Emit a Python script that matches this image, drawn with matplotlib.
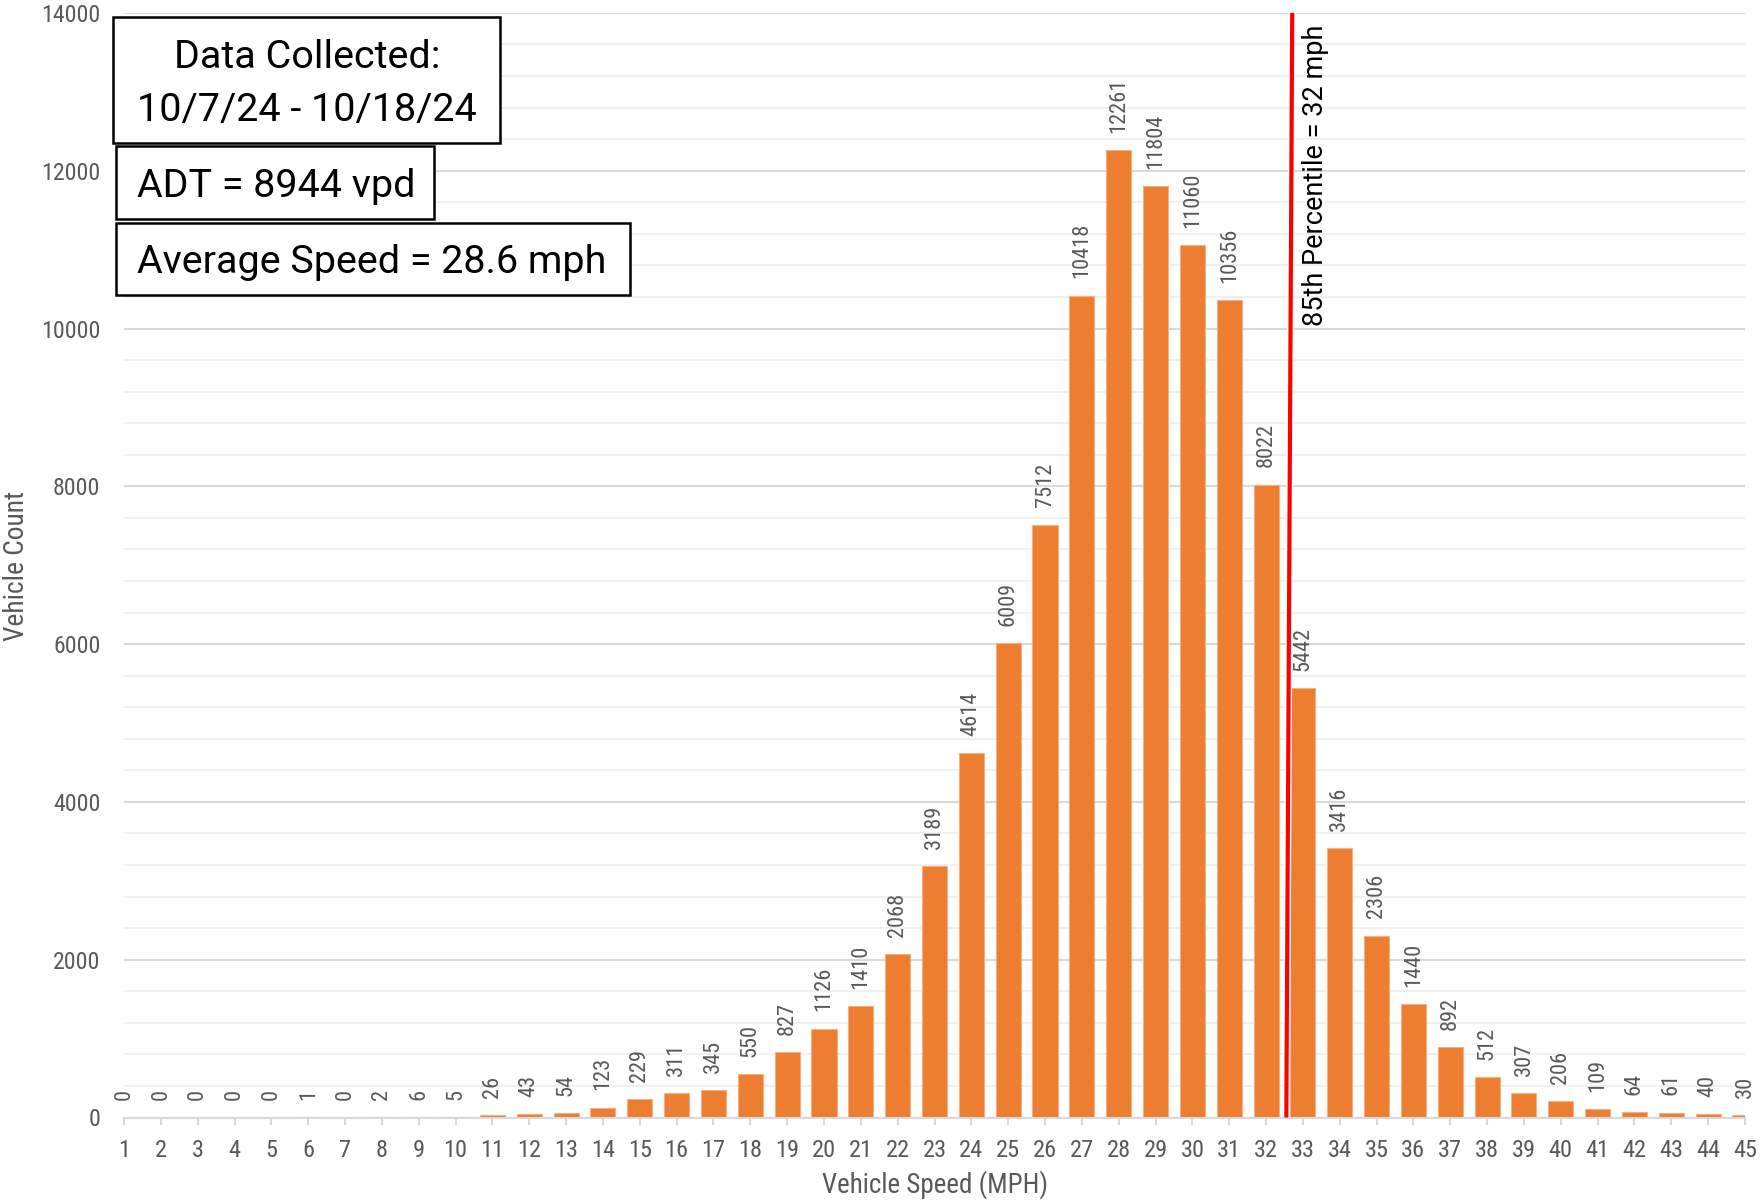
import matplotlib
matplotlib.use("Agg")
import matplotlib.pyplot as plt
from matplotlib.patches import Rectangle
import matplotlib.patheffects as pe
from matplotlib import font_manager
from matplotlib.font_manager import FontProperties

# ---------------- data ----------------
speeds = list(range(1, 46))
counts = [0, 0, 0, 0, 0, 1, 0, 2, 6, 5, 26, 43, 54, 123, 229, 311, 345, 550, 827,
          1126, 1410, 2068, 3189, 4614, 6009, 7512, 10418, 12261, 11804, 11060,
          10356, 8022, 5442, 3416, 2306, 1440, 892, 512, 307, 206, 109, 64, 61, 40, 30]
y_ticks = [0, 2000, 4000, 6000, 8000, 10000, 12000, 14000]
x_title = "Vehicle Speed (MPH)"
y_title = "Vehicle Count"
box_lines = ["Data Collected:", "10/7/24 - 10/18/24", "ADT = 8944 vpd", "Average Speed = 28.6 mph"]
pct_text = "85th Percentile = 32 mph"

# ---------------- fonts ----------------
plt.rcParams['font.family'] = ['Roboto', 'DejaVu Sans']
narrow_fp = None
pref = ['Roboto Condensed', 'Liberation Sans Narrow', 'Open Sans Condensed', 'DejaVu Sans']
cands = []
for f in font_manager.fontManager.ttflist:
    fn = f.fname.lower()
    if ('condensed' in fn or 'narrow' in fn) and f.weight in (400, 'normal', 'regular') \
            and f.style == 'normal' and 'bold' not in fn and 'oblique' not in fn \
            and 'italic' not in fn and 'light' not in fn and 'semi' not in fn:
        cands.append(f)
for p in pref:
    for f in cands:
        if f.name == p:
            narrow_fp = FontProperties(fname=f.fname)
            break
    if narrow_fp is not None:
        break
if narrow_fp is None:
    narrow_fp = FontProperties(family=['Roboto', 'DejaVu Sans'])
roboto_fp = FontProperties(family=['Roboto', 'DejaVu Sans'])

W, H = 1760, 1204
fig = plt.figure(figsize=(W / 100, H / 100), dpi=100)
renderer = fig.canvas.get_renderer()


def fitted(s, fp, target, base=20.0):
    t = fig.text(0, 0, s, fontproperties=fp, fontsize=base)
    w = t.get_window_extent(renderer).width
    t.remove()
    return base * target / w


xt_size = fitted("10", narrow_fp, 24)
yt_size = fitted("14000", narrow_fp, 59)
dl_size = fitted("12261", narrow_fp, 55)
xtitle_size = fitted(x_title, narrow_fp, 226)
ytitle_size = fitted(y_title, narrow_fp, 150)
box_size = fitted(box_lines[3], roboto_fp, 468)

left, right, bottom, top = 124, 1745, 1117.5, 12.9
ax = fig.add_axes([left / W, 1 - bottom / H, (right - left) / W, (bottom - top) / H])

ax.bar(speeds, counts, width=0.68, color='#ED7D31', edgecolor='#F4B183', linewidth=0.8, zorder=3)
ax.set_xlim(1, 45)
ax.set_ylim(0, 14000)

ax.set_yticks(y_ticks)
ax.set_yticks(range(0, 14001, 400), minor=True)
ax.yaxis.grid(True, which='major', color='#D9D9D9', lw=1.5, zorder=0)
ax.yaxis.grid(True, which='minor', color='#F0F0F0', lw=1.5, zorder=0)
ax.set_axisbelow(True)
for s in ['top', 'right', 'left']:
    ax.spines[s].set_visible(False)
ax.spines['bottom'].set_color('#D9D9D9')
ax.spines['bottom'].set_linewidth(1.5)
ax.spines['bottom'].set_zorder(4)

ax.set_xticks(speeds)
ax.set_xticklabels([str(s) for s in speeds])
ax.tick_params(axis='x', which='major', length=5, width=1.5, color='#D9D9D9',
               labelcolor='#595959', pad=10.5)
ax.tick_params(axis='y', which='both', length=0, labelcolor='#595959', pad=17)
for lab in ax.get_xticklabels():
    lab.set_fontproperties(narrow_fp)
    lab.set_fontsize(xt_size)
for lab in ax.get_yticklabels():
    lab.set_fontproperties(narrow_fp)
    lab.set_fontsize(yt_size)

fig.text(934.5 / W, 1 - 1185 / H, x_title, ha='center', va='center',
         fontproperties=narrow_fp, fontsize=xtitle_size, color='#595959')
fig.text(17 / W, 1 - 566 / H, y_title, ha='center', va='center', rotation=90,
         fontproperties=narrow_fp, fontsize=ytitle_size, color='#595959')

for x, v in zip(speeds, counts):
    ax.annotate(str(v), (x, v), xytext=(0, 12.5), textcoords='offset points', rotation=90,
                ha='center', va='bottom', fontproperties=narrow_fp, fontsize=dl_size,
                color='#595959', annotation_clip=False, zorder=6)

# 85th percentile line
ax.plot([32.55, 32.71], [0, 14000], color='#FF0000', lw=3, zorder=5, clip_on=False,
        solid_capstyle='butt',
        path_effects=[pe.Stroke(linewidth=5, foreground='white'), pe.Normal()])
ax.text(1315 / W, 1 - 25 / H, pct_text, transform=fig.transFigure, rotation=90,
        ha='center', va='top', fontproperties=roboto_fp, fontsize=19.5, color='black')

# text boxes
boxes = [(113, 17, 500, 143), (116, 146, 434, 219), (116, 223, 630, 295)]
for (x0, y0, x1, y1) in boxes:
    fig.patches.append(Rectangle((x0 / W, 1 - y1 / H), (x1 - x0) / W, (y1 - y0) / H,
                                 transform=fig.transFigure, fill=True, facecolor='white',
                                 edgecolor='black', lw=1.8, zorder=10))
fig.text(307 / W, 1 - 68 / H, box_lines[0], ha='center', va='baseline',
         fontproperties=roboto_fp, fontsize=box_size, color='black', zorder=11)
fig.text(307 / W, 1 - 121 / H, box_lines[1], ha='center', va='baseline',
         fontproperties=roboto_fp, fontsize=box_size, color='black', zorder=11)
fig.text(137 / W, 1 - 197 / H, box_lines[2], ha='left', va='baseline',
         fontproperties=roboto_fp, fontsize=box_size, color='black', zorder=11)
fig.text(137 / W, 1 - 273 / H, box_lines[3], ha='left', va='baseline',
         fontproperties=roboto_fp, fontsize=box_size, color='black', zorder=11)

fig.savefig("out.png", dpi=100)
